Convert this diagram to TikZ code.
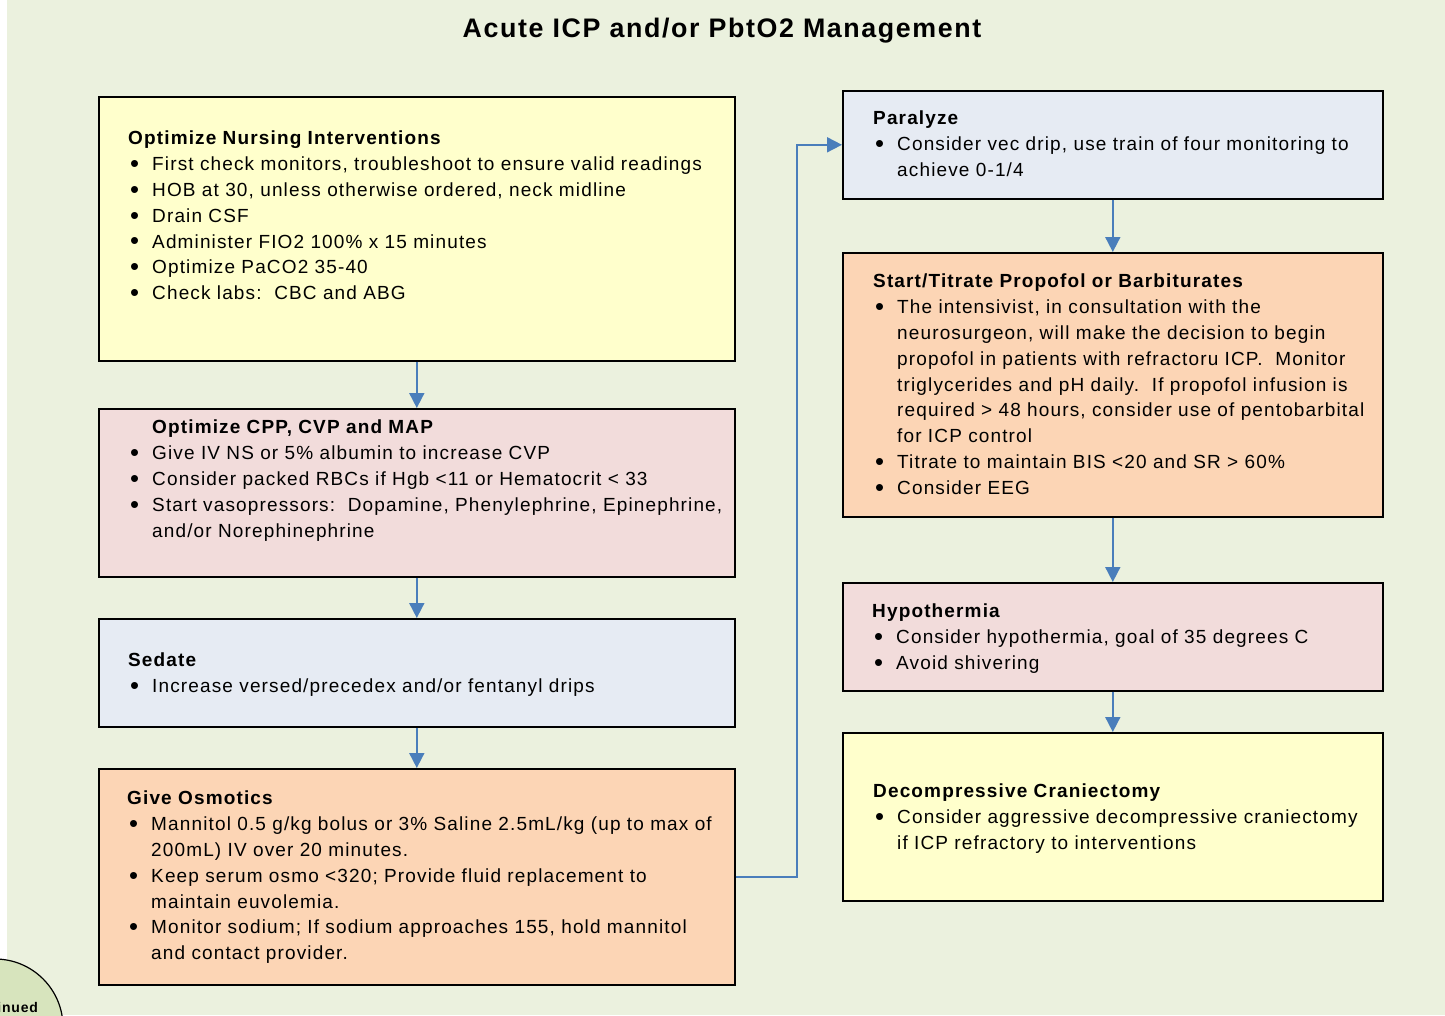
\documentclass[tikz,border=0pt]{standalone}
\usepackage{fontspec}
\setmainfont[LetterSpace=6]{Liberation Sans}
\usetikzlibrary{arrows.meta}
\definecolor{bgc}{HTML}{EBF1DE}
\definecolor{yel}{HTML}{FFFFCC}
\definecolor{pnk}{HTML}{F2DCDB}
\definecolor{blu}{HTML}{E6EBF3}
\definecolor{org}{HTML}{FCD5B5}
\definecolor{arc}{HTML}{4A7EBB}
\definecolor{cir}{HTML}{D7E4BD}
\setlength\parindent{0pt}
\newcommand\bitem[1]{\par\noindent\hangindent=24pt\hangafter=1\makebox[24pt][l]{\hspace{2pt}\raisebox{-0.09em}{\scalebox{1.35}{\textbullet}}}#1\par}
\begin{document}
\begin{tikzpicture}[x=1pt,y=-1pt,
  box/.style={draw=black,line width=1.6pt,anchor=north west,inner sep=0pt},
  txt/.style={anchor=north west,inner sep=0pt,text width=640pt,align=left,font=\fontsize{19pt}{25.8pt}\selectfont},
  arr/.style={draw=arc,line width=1.8pt,-{Triangle[length=15pt,width=15pt]}}]
\useasboundingbox (0,0) rectangle (1445,1015);
\fill[bgc] (7,0) rectangle (1445,1015);
\node[draw=black,line width=1.2pt,fill=cir,circle,minimum size=136pt] (cont) at (-5,1027) {};
\node[font=\fontsize{14pt}{16pt}\selectfont\bfseries] (conttxt) at (0,1007) {Continued};
\node[font=\fontsize{26.8pt}{30pt}\selectfont\bfseries] (title) at (722,31) {Acute ICP and/or PbtO2 Management};
% left boxes
\node[box,fill=yel,minimum width=636pt,minimum height=264pt] (b1) at (98,96) {};
\node[box,fill=pnk,minimum width=636pt,minimum height=168pt] (b2) at (98,408) {};
\node[box,fill=blu,minimum width=636pt,minimum height=108pt] (b3) at (98,618) {};
\node[box,fill=org,minimum width=636pt,minimum height=216pt] (b4) at (98,768) {};
% right boxes
\node[box,fill=blu,minimum width=540pt,minimum height=108pt] (b5) at (842,90) {};
\node[box,fill=org,minimum width=540pt,minimum height=264pt] (b6) at (842,252) {};
\node[box,fill=pnk,minimum width=540pt,minimum height=108pt] (b7) at (842,582) {};
\node[box,fill=yel,minimum width=540pt,minimum height=168pt] (b8) at (842,732) {};
% texts
\node[txt] (t1) at (128,131) {\textbf{Optimize Nursing Interventions}
\bitem{First check monitors, troubleshoot to ensure valid readings}
\bitem{HOB at 30, unless otherwise ordered, neck midline}
\bitem{Drain CSF}
\bitem{Administer FIO2 100\% x 15 minutes}
\bitem{Optimize PaCO2 35-40}
\bitem{Check labs:\ \ CBC and ABG}};
\node[txt] (t2) at (128,420) {\hspace*{24pt}\textbf{Optimize CPP, CVP and MAP}
\bitem{Give IV NS or 5\% albumin to increase CVP}
\bitem{Consider packed RBCs if Hgb <11 or Hematocrit < 33}
\bitem{Start vasopressors:\ \ Dopamine, Phenylephrine, Epinephrine,\newline and/or Norephinephrine}};
\node[txt] (t3) at (128,653) {\textbf{Sedate}
\bitem{Increase versed/precedex and/or fentanyl drips}};
\node[txt] (t4) at (127,791) {\textbf{Give Osmotics}
\bitem{Mannitol 0.5 g/kg bolus or 3\% Saline 2.5mL/kg (up to max of\newline 200mL) IV over 20 minutes.}
\bitem{Keep serum osmo <320; Provide fluid replacement to\newline maintain euvolemia.}
\bitem{Monitor sodium; If sodium approaches 155, hold mannitol\newline and contact provider.}};
\node[txt] (t5) at (873,111) {\textbf{Paralyze}
\bitem{Consider vec drip, use train of four monitoring to\newline achieve 0-1/4}};
\node[txt] (t6) at (873,274) {\textbf{Start/Titrate Propofol or Barbiturates}
\bitem{The intensivist, in consultation with the\newline neurosurgeon, will make the decision to begin\newline propofol in patients with refractoru ICP.\ \ Monitor\newline triglycerides and pH daily.\ \ If propofol infusion is\newline required > 48 hours, consider use of pentobarbital\newline for ICP control}
\bitem{Titrate to maintain BIS <20 and SR > 60\%}
\bitem{Consider EEG}};
\node[txt] (t7) at (872,604) {\textbf{Hypothermia}
\bitem{Consider hypothermia, goal of 35 degrees C}
\bitem{Avoid shivering}};
\node[txt] (t8) at (873,784) {\textbf{Decompressive Craniectomy}
\bitem{Consider aggressive decompressive craniectomy\newline if ICP refractory to interventions}};
% connectors
\draw[arr] (b1.south) -- (b2.north);
\draw[arr] (b2.south) -- (b3.north);
\draw[arr] (b3.south) -- (b4.north);
\draw[arr] (b5.south) -- (b6.north);
\draw[arr] (b6.south) -- (b7.north);
\draw[arr] (b7.south) -- (b8.north);
\draw[arr] (b4.east) -- ++(61,0) |- (b5.west);
\end{tikzpicture}
\end{document}
